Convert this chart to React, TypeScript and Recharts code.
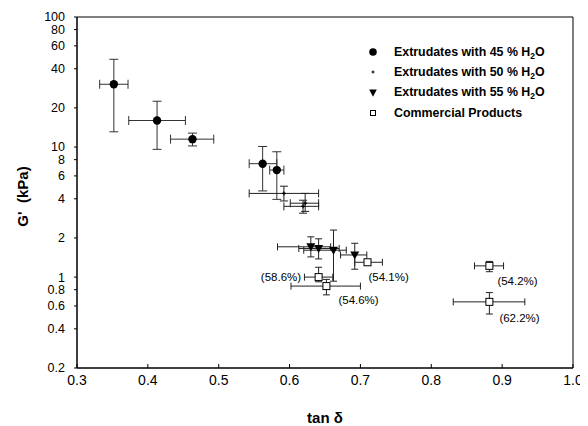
import React from 'react';
import { ScatterChart, Scatter, XAxis, YAxis, ErrorBar, ReferenceArea } from 'recharts';

// ---- Data ----
// Extrudates with 45 % H2O
const h45X = [0.352, 0.413, 0.463, 0.562, 0.582];
const h45Y = [30.4, 16.0, 11.5, 7.45, 6.65];
const h45XLow = [0.332, 0.373, 0.432, 0.543, 0.572];
const h45XHigh = [0.372, 0.453, 0.493, 0.582, 0.592];
const h45YLow = [13.1, 9.6, 10.2, 4.6, 3.96];
const h45YHigh = [47.3, 22.5, 12.8, 10.1, 9.2];

// Extrudates with 50 % H2O
const h50X = [0.592, 0.622, 0.619];
const h50Y = [4.4, 3.7, 3.5];
const h50XLow = [0.543, 0.601, 0.592];
const h50XHigh = [0.641, 0.641, 0.641];
const h50YLow = [3.85, 3.2, 3.1];
const h50YHigh = [5.0, 4.4, 3.9];

// Extrudates with 55 % H2O
const h55X = [0.630, 0.641, 0.662, 0.692];
const h55Y = [1.71, 1.66, 1.61, 1.48];
const h55XLow = [0.583, 0.613, 0.620, 0.672];
const h55XHigh = [0.658, 0.670, 0.680, 0.709];
const h55YLow = [1.43, 1.38, 0.93, 1.15];
const h55YHigh = [2.04, 1.97, 2.3, 1.82];

// Commercial products
const comX = [0.710, 0.641, 0.652, 0.882, 0.882];
const comY = [1.30, 1.00, 0.853, 1.22, 0.645];
const comXLow = [0.692, 0.621, 0.602, 0.861, 0.831];
const comXHigh = [0.731, 0.661, 0.700, 0.902, 0.932];
const comYLow = [1.24, 0.92, 0.73, 1.10, 0.52];
const comYHigh = [1.36, 1.19, 0.96, 1.32, 0.76];
const comLabels = ['(54.1%)', '(58.6%)', '(54.6%)', '(54.2%)', '(62.2%)'];

const xTicks = [0.3, 0.4, 0.5, 0.6, 0.7, 0.8, 0.9, 1.0];
const yTicks = [0.2, 0.4, 0.6, 0.8, 1, 2, 4, 6, 8, 10, 20, 40, 60, 80, 100];

const legendItems = ['Extrudates with 45 % H', 'Extrudates with 50 % H', 'Extrudates with 55 % H', 'Commercial Products'];

// ---- Layout/style (not data) ----
const FONT = '"Liberation Sans", Arial, sans-serif';
const labelPlacement = [
  { dx: 1, dy: 14.5, anchor: 'start' },
  { dx: -17.5, dy: -0.5, anchor: 'end' },
  { dx: 12, dy: 14, anchor: 'start' },
  { dx: 8, dy: 15, anchor: 'start' },
  { dx: 10, dy: 16.5, anchor: 'start' },
];

function build(xs: number[], ys: number[], xl: number[], xh: number[], yl: number[], yh: number[], labels?: string[]) {
  return xs.map((x, i) => ({
    x,
    y: ys[i],
    ex: [x - xl[i], xh[i] - x],
    ey: [ys[i] - yl[i], yh[i] - ys[i]],
    label: labels ? labels[i] : '',
    idx: i,
  }));
}

const d45 = build(h45X, h45Y, h45XLow, h45XHigh, h45YLow, h45YHigh);
const d50 = build(h50X, h50Y, h50XLow, h50XHigh, h50YLow, h50YHigh);
const d55 = build(h55X, h55Y, h55XLow, h55XHigh, h55YLow, h55YHigh);
const dCom = build(comX, comY, comXLow, comXHigh, comYLow, comYHigh, comLabels);

const CircleShape = (p: any) => <circle cx={p.cx} cy={p.cy} r={4.2} fill="#000" />;
const PlusShape = (p: any) => (
  <path d={`M${p.cx - 2},${p.cy}H${p.cx + 2}M${p.cx},${p.cy - 2}V${p.cy + 2}`} stroke="#000" strokeWidth={1.2} fill="none" />
);
const TriShape = (p: any) => (
  <path d={`M${p.cx - 4.5},${p.cy - 3.5}L${p.cx + 4.5},${p.cy - 3.5}L${p.cx},${p.cy + 4.5}Z`} fill="#000" />
);
const SquareShape = (p: any) => {
  const payload = p.payload || {};
  const pl = labelPlacement[payload.idx] || { dx: 8, dy: 14, anchor: 'start' };
  return (
    <g>
      <rect x={p.cx - 3.5} y={p.cy - 3.5} width={7} height={7} fill="#fff" stroke="#000" strokeWidth={1} />
      <text
        x={p.cx + pl.dx}
        y={p.cy + pl.dy}
        textAnchor={pl.anchor as any}
        dominantBaseline="central"
        fontFamily={FONT}
        fontSize={11.5}
        fill="#000"
      >
        {payload.label}
      </text>
    </g>
  );
};

const YTitle = (props: any) => {
  const vb = props.viewBox || { x: 0, y: 9, width: 69, height: 351 };
  const cx = vb.x + 14;
  const cy = vb.y + vb.height / 2 + 4;
  return (
    <text
      x={cx}
      y={cy}
      transform={`rotate(-90 ${cx} ${cy})`}
      textAnchor="middle"
      dominantBaseline="central"
      fontFamily={FONT}
      fontWeight="bold"
      fontSize={15}
      fill="#000"
      style={{ whiteSpace: 'pre' }}
    >
      {"G'  (kPa)"}
    </text>
  );
};

const XTitle = (props: any) => {
  const vb = props.viewBox || { x: 69, y: 360, width: 496, height: 58 };
  return (
    <text
      x={vb.x + vb.width / 2}
      y={vb.y + 55}
      textAnchor="middle"
      fontFamily={FONT}
      fontWeight="bold"
      fontSize={15}
      fill="#000"
    >
      tan δ
    </text>
  );
};

const legendMarkers = [
  <circle key="c" cx={6} cy={6} r={3.8} fill="#000" />,
  <path key="p" d="M4.5,6H7.5M6,4.5V7.5" stroke="#000" strokeWidth={1.1} />,
  <path key="t" d="M2.2,2.6L9.8,2.6L6,9.8Z" fill="#000" />,
  <rect key="s" x={3.5} y={3.5} width={5} height={5} fill="#fff" stroke="#000" strokeWidth={1} />,
];
const legendRowY = [44.3, 64.3, 84.7, 104.7];

export default function App() {
  const xTickStyle = { fontFamily: FONT, fontSize: 14, fill: '#000' };
  const yTickStyle = { fontFamily: FONT, fontSize: 12.5, fill: '#000' };
  return (
    <div style={{ position: 'relative', width: 580, height: 418 }}>
      <ScatterChart width={580} height={418} margin={{ top: 9, right: 15, bottom: 0, left: 0 }} style={{ overflow: 'visible' }}>
        <XAxis
          type="number"
          dataKey="x"
          domain={[0.3, 1.0]}
          ticks={xTicks}
          tickFormatter={(v: number) => v.toFixed(1)}
          allowDataOverflow
          height={58}
          tickSize={-4}
          tickMargin={11}
          tick={xTickStyle}
          axisLine={{ stroke: '#000' }}
          tickLine={{ stroke: '#000' }}
          interval={0}
          label={<XTitle />}
        />
        <YAxis
          type="number"
          dataKey="y"
          scale="log"
          domain={[0.2, 100]}
          ticks={yTicks}
          allowDataOverflow
          width={69}
          tickSize={3}
          tickMargin={9}
          tick={yTickStyle}
          axisLine={{ stroke: '#000' }}
          tickLine={{ stroke: '#000' }}
          interval={0}
          label={<YTitle />}
        />
        <ReferenceArea x1={0.3} x2={1.0} y1={0.2} y2={100} fill="none" stroke="#000" strokeWidth={1} ifOverflow="visible" />
        <Scatter data={d45} shape={CircleShape} isAnimationActive={false}>
          <ErrorBar dataKey="ex" direction="x" width={4.5} stroke="#333" strokeWidth={1} />
          <ErrorBar dataKey="ey" direction="y" width={4.5} stroke="#333" strokeWidth={1} />
        </Scatter>
        <Scatter data={d50} shape={PlusShape} isAnimationActive={false}>
          <ErrorBar dataKey="ex" direction="x" width={4} stroke="#222" strokeWidth={1} />
          <ErrorBar dataKey="ey" direction="y" width={4} stroke="#222" strokeWidth={1} />
        </Scatter>
        <Scatter data={d55} shape={TriShape} isAnimationActive={false}>
          <ErrorBar dataKey="ex" direction="x" width={3.5} stroke="#222" strokeWidth={1} />
          <ErrorBar dataKey="ey" direction="y" width={3.5} stroke="#222" strokeWidth={1} />
        </Scatter>
        <Scatter data={dCom} shape={SquareShape} isAnimationActive={false}>
          <ErrorBar dataKey="ex" direction="x" width={3.5} stroke="#222" strokeWidth={1} />
          <ErrorBar dataKey="ey" direction="y" width={3.5} stroke="#222" strokeWidth={1} />
        </Scatter>
      </ScatterChart>
      {legendItems.map((t, i) => (
        <div
          key={t}
          style={{
            position: 'absolute',
            left: 358.7,
            top: legendRowY[i] - 8,
            height: 16,
            display: 'flex',
            alignItems: 'center',
            fontFamily: FONT,
            fontWeight: 'bold',
            fontSize: 12.4,
            lineHeight: '16px',
            color: '#000',
            whiteSpace: 'pre',
          }}
        >
          <svg width={12} height={12} style={{ display: 'block' }}>
            {legendMarkers[i]}
          </svg>
          <span style={{ marginLeft: 15.3 }}>
            {t}
            {i < 3 ? (
              <>
                <span style={{ fontSize: 8.5, position: 'relative', top: 3 }}>2</span>O
              </>
            ) : null}
          </span>
        </div>
      ))}
    </div>
  );
}
